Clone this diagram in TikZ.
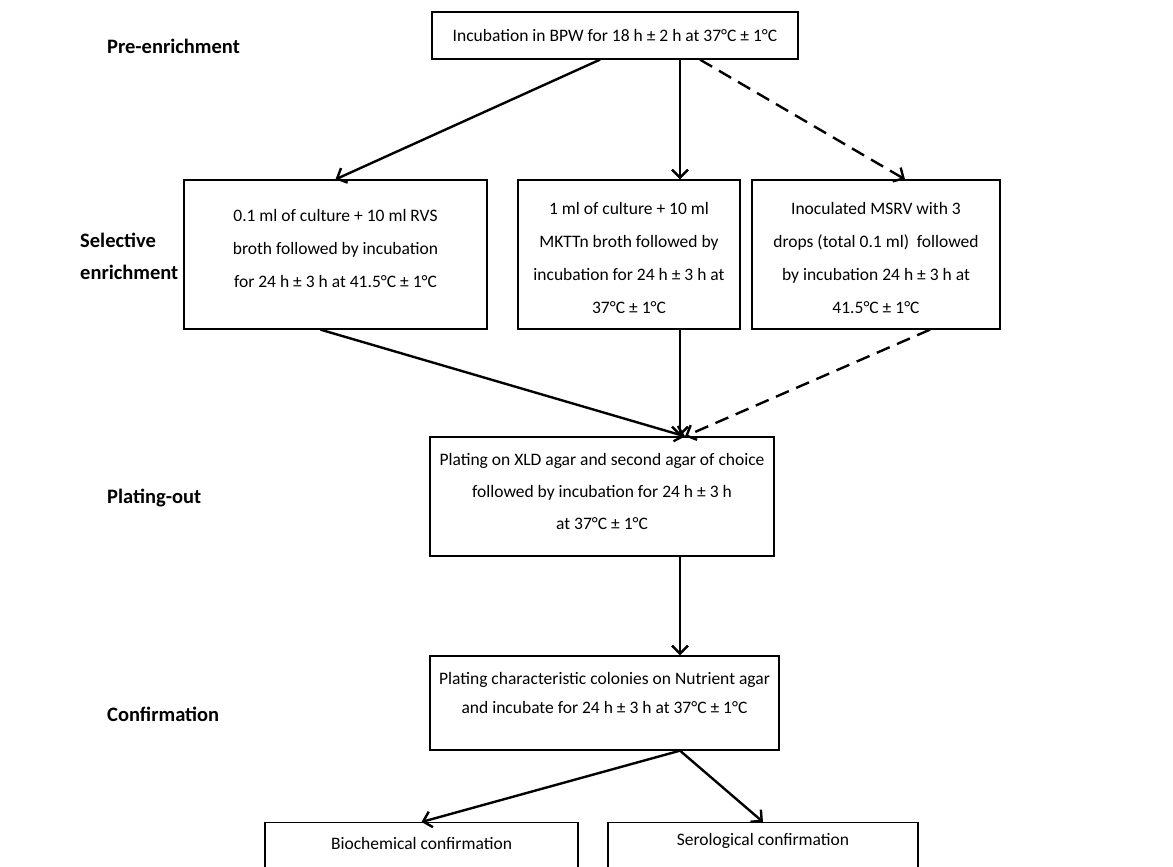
\documentclass[tikz,border=0pt]{standalone}
\usepackage{fontspec}
\setmainfont{Carlito}
\usetikzlibrary{arrows.meta,calc}
\begin{document}
\begin{tikzpicture}[x=1pt,y=-1pt,
  box/.style={draw, line width=1.3pt, align=center, inner sep=0pt, font=\fontsize{17.5}{33}\selectfont},
  lab/.style={font=\fontsize{20.5}{32}\selectfont\bfseries, anchor=west, align=left, inner sep=0pt},
  arr/.style={line width=2.4pt, -{Straight Barb[length=8pt,width=16pt]}},
  darr/.style={arr, dash pattern=on 14pt off 8pt}]
\useasboundingbox[fill=white] (0,0) rectangle (1173,867);
% labels
\node[lab] (l1) at (107,46) {Pre-enrichment};
\node[lab] (l2) at (80,256) {Selective\\enrichment};
\node[lab] (l3) at (107,498) {Plating-out};
\node[lab] (l4) at (107,714) {Confirmation};
% boxes
\node[box, minimum width=366, minimum height=47] (top) at (615,35.5) {Incubation in BPW for 18 h ± 2 h at 37°C ± 1°C};
\node[box, minimum width=303, minimum height=149] (b1) at (335.5,254.5) {0.1 ml of culture + 10 ml RVS\\broth followed by incubation\\for 24 h ± 3 h at 41.5°C ± 1°C\rule[-12pt]{0pt}{0pt}};
\node[box, minimum width=222, minimum height=149] (b2) at (629,254.5) {\rule{0pt}{19pt}1 ml of culture + 10 ml\\MKTTn broth followed by\\incubation for 24 h ± 3 h at\\37°C ± 1°C};
\node[box, minimum width=248, minimum height=149] (b3) at (876,254.5) {\rule{0pt}{19pt}Inoculated MSRV with 3\\drops (total 0.1 ml)~ followed\\by incubation 24 h ± 3 h at\\41.5°C ± 1°C};
\node[box, minimum width=344, minimum height=119, font=\fontsize{17.5}{32}\selectfont] (b4) at (602,496.5) {Plating on XLD agar and second agar of choice\\followed by incubation for 24 h ± 3 h\\at 37°C ± 1°C\rule[-10pt]{0pt}{0pt}};
\node[box, minimum width=349, minimum height=94, font=\fontsize{17.5}{29}\selectfont] (b5) at (604.5,703) {Plating characteristic colonies on Nutrient agar\\and incubate for 24 h ± 3 h at 37°C ± 1°C\rule[-20pt]{0pt}{0pt}};
\node[box, minimum width=313, text height=25pt, text depth=31pt, inner ysep=2pt, anchor=north] (b6) at (421.5,822) {Biochemical confirmation};
\node[box, minimum width=310, text height=21pt, text depth=35pt, inner ysep=2pt, anchor=north] (b7) at (763,822) {Serological confirmation};
% arrows
\coordinate (m4) at ([xshift=83]b4.north);
\draw[arr] ([xshift=-15]top.south) -- (b1.north);
\draw[arr] ([xshift=65]top.south) -- ([xshift=65]top.south |- b2.north);
\draw[darr] ([xshift=85]top.south) -- ([xshift=29]b3.north);
\draw[arr] ([xshift=-15]b1.south) -- (m4);
\draw[arr] ([xshift=51]b2.south) -- ([xshift=51]b2.south |- b4.north);
\draw[darr] ([xshift=54]b3.south) -- (m4);
\draw[arr] ([xshift=78]b4.south) -- ([xshift=78]b4.south |- b5.north);
\draw[arr] ([xshift=75.5]b5.south) -- (b6.north);
\draw[arr] ([xshift=75.5]b5.south) -- (b7.north);
\end{tikzpicture}
\end{document}
